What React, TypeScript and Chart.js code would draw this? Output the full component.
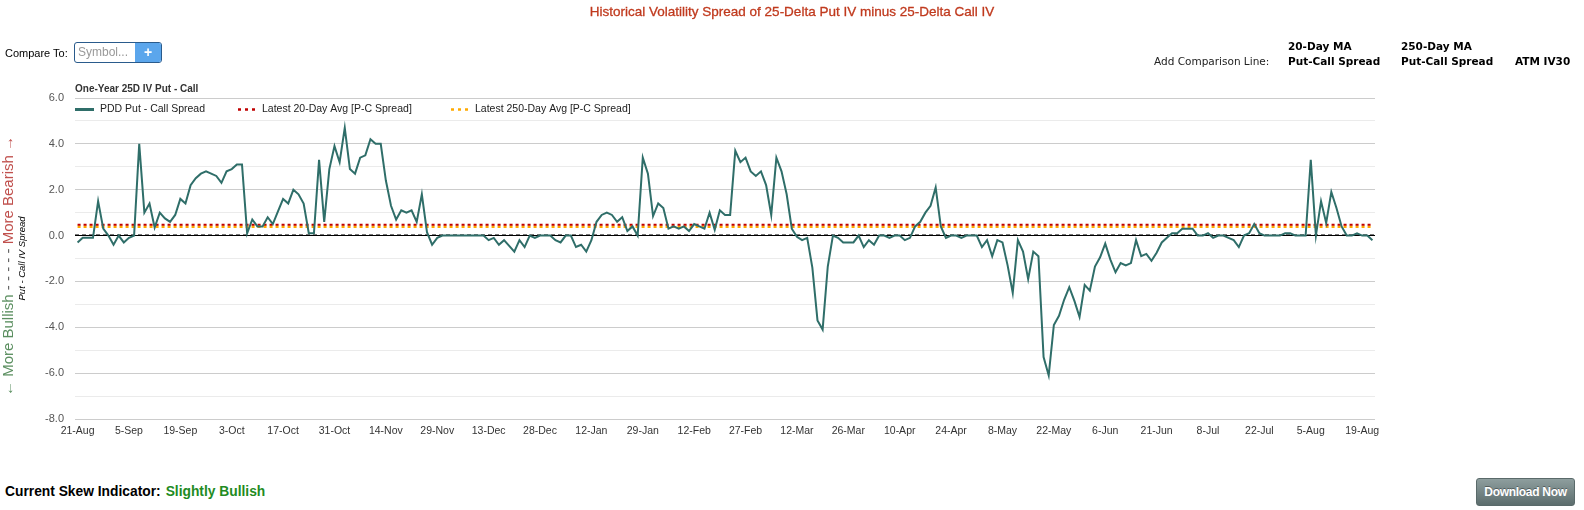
import React, { useEffect, useRef } from 'react';
import { Chart, registerables } from 'chart.js';

Chart.register(...registerables);

const tickLabels = [
  '21-Aug', '5-Sep', '19-Sep', '3-Oct', '17-Oct', '31-Oct', '14-Nov', '29-Nov', '13-Dec',
  '28-Dec', '12-Jan', '29-Jan', '12-Feb', '27-Feb', '12-Mar', '26-Mar', '10-Apr', '24-Apr',
  '8-May', '22-May', '6-Jun', '21-Jun', '8-Jul', '22-Jul', '5-Aug', '19-Aug',
];

const spreadValues = [
  -0.3, -0.1, -0.1, -0.1, 1.5, 0.3, 0.0, -0.4, 0.0, -0.3, -0.1, 0.0, 4.0, 1.0, 1.4, 0.35,
  1.0, 0.75, 0.6, 0.9, 1.6, 1.4, 2.2, 2.5, 2.7, 2.8, 2.7, 2.6, 2.3, 2.8, 2.9, 3.1,
  3.1, 0.1, 0.7, 0.4, 0.4, 0.8, 0.5, 1.05, 1.6, 1.4, 2.0, 1.8, 1.4, 0.1, 0.1, 3.3,
  0.6, 2.9, 3.9, 3.2, 4.7, 2.9, 2.7, 3.4, 3.5, 4.2, 4.0, 4.0, 2.4, 1.3, 0.7, 1.1,
  1.0, 1.1, 0.6, 1.8, 0.15, -0.4, -0.1, 0.0, 0.0, 0.0, 0.0, 0.0, 0.0, 0.0, 0.0, 0.0,
  -0.2, -0.1, -0.4, -0.2, -0.45, -0.7, -0.2, -0.5, 0.0, -0.1, 0.0, 0.0, 0.0, -0.2, -0.3, 0.0,
  0.0, -0.5, -0.4, -0.7, -0.2, 0.6, 0.9, 1.0, 0.9, 0.6, 0.8, 0.2, 0.4, 0.0, 3.4, 2.7,
  0.85, 1.4, 1.2, 0.3, 0.4, 0.3, 0.4, 0.2, 0.5, 0.4, 0.3, 1.0, 0.25, 1.1, 0.9, 0.9,
  3.7, 3.2, 3.4, 2.8, 2.6, 2.8, 2.2, 0.9, 3.4, 2.8, 1.8, 0.3, -0.05, -0.2, -0.1, -1.4,
  -3.7, -4.1, -1.35, 0.0, -0.1, -0.3, -0.3, -0.3, 0.0, -0.5, -0.2, -0.4, 0.0, 0.0, -0.1, 0.0,
  0.0, -0.2, -0.1, 0.4, 0.6, 1.0, 1.3, 2.1, 0.4, -0.1, 0.0, 0.0, -0.1, 0.0, 0.0, 0.0,
  -0.5, -0.2, -0.9, -0.2, -0.3, -1.3, -2.5, -0.2, -0.7, -1.9, -0.7, -0.9, -5.3, -6.1, -3.9, -3.5,
  -2.8, -2.25, -2.85, -3.55, -2.15, -2.4, -1.35, -0.95, -0.35, -1.05, -1.6, -1.2, -1.3, -1.2, -0.2, -0.9,
  -0.8, -1.1, -0.75, -0.3, -0.1, 0.1, 0.1, 0.3, 0.3, 0.3, 0.0, 0.0, 0.1, -0.1, 0.0, 0.0,
  -0.1, -0.2, -0.5, 0.0, 0.1, 0.5, 0.1, 0.0, 0.0, 0.0, 0.0, 0.1, 0.1, 0.0, 0.0, 0.0,
  3.3, 0.0, 1.5, 0.55, 1.9, 1.2, 0.4, 0.0, 0.0, 0.1, 0.0, 0.0, -0.2,
];

const avg20Day = 0.47;
const avg250Day = 0.38;

const seriesNames = [
  'PDD Put - Call Spread',
  'Latest 20-Day Avg [P-C Spread]',
  'Latest 250-Day Avg [P-C Spread]',
];

const seriesColors = ['#2f6e69', '#c00000', '#ffaa00'];

const Y_MIN = -8;
const Y_MAX = 6;

const categories = spreadValues.map((_, i) => (i % 10 === 0 ? tickLabels[i / 10] ?? '' : ''));

const FONT = '"Liberation Sans", Arial, Helvetica, sans-serif';

const zeroDashPlugin = {
  id: 'zeroDash',
  beforeDatasetsDraw(chart: any) {
    const { ctx, chartArea, scales } = chart;
    const y0 = Math.round(scales.y.getPixelForValue(0));
    ctx.save();
    ctx.strokeStyle = '#777';
    ctx.lineWidth = 1;
    ctx.setLineDash([4, 3]);
    ctx.beginPath();
    ctx.moveTo(chartArea.left, y0 - 1.5);
    ctx.lineTo(chartArea.right, y0 - 1.5);
    ctx.stroke();
    ctx.restore();
  },
};

const insideLegendPlugin = {
  id: 'insideLegend',
  afterDraw(chart: any) {
    const { ctx, chartArea } = chart;
    const y = chartArea.top + 11.5;
    const offsets = [0, 162, 375];
    ctx.save();
    ctx.font = `10.5px ${FONT}`;
    ctx.textBaseline = 'middle';
    ctx.textAlign = 'left';
    seriesNames.forEach((name, i) => {
      const x = chartArea.left + offsets[i];
      ctx.strokeStyle = seriesColors[i];
      if (i === 0) {
        ctx.lineWidth = 3;
        ctx.setLineDash([]);
        ctx.beginPath();
        ctx.moveTo(x, y);
        ctx.lineTo(x + 19, y);
        ctx.stroke();
      } else {
        ctx.lineWidth = 2.5;
        ctx.setLineDash([3, 4]);
        ctx.beginPath();
        ctx.moveTo(x + 1, y);
        ctx.lineTo(x + 18, y);
        ctx.stroke();
      }
      ctx.setLineDash([]);
      ctx.fillStyle = '#222';
      ctx.fillText(name, x + 25, y);
    });
    ctx.restore();
  },
};

function SpreadChart() {
  const canvasRef = useRef<HTMLCanvasElement | null>(null);

  useEffect(() => {
    const canvas = canvasRef.current;
    if (!canvas) return;
    const chart = new Chart(canvas, {
      type: 'line',
      data: {
        labels: categories,
        datasets: [
          {
            label: seriesNames[0],
            data: spreadValues,
            borderColor: seriesColors[0],
            backgroundColor: seriesColors[0],
            borderWidth: 2,
            pointRadius: 0,
            tension: 0,
          },
          {
            label: seriesNames[1],
            data: spreadValues.map(() => avg20Day),
            borderColor: seriesColors[1],
            backgroundColor: seriesColors[1],
            borderWidth: 2,
            borderDash: [3, 3],
            pointRadius: 0,
          },
          {
            label: seriesNames[2],
            data: spreadValues.map(() => avg250Day),
            borderColor: seriesColors[2],
            backgroundColor: seriesColors[2],
            borderWidth: 2.5,
            borderDash: [3, 3],
            pointRadius: 0,
          },
        ],
      },
      options: {
        animation: false,
        responsive: false,
        maintainAspectRatio: false,
        layout: { padding: { left: 0, right: 209, top: 98, bottom: 0 } },
        plugins: {
          legend: { display: false },
          tooltip: { enabled: false },
        },
        scales: {
          x: {
            type: 'category',
            offset: true,
            grid: { display: false, drawTicks: false },
            border: { display: false },
            ticks: {
              autoSkip: false,
              maxRotation: 0,
              minRotation: 0,
              padding: 6,
              color: '#333',
              font: { family: FONT, size: 10.5 },
            },
            afterFit: (s: any) => {
              s.height = 31;
            },
          },
          y: {
            type: 'linear',
            min: Y_MIN,
            max: Y_MAX,
            grid: {
              drawTicks: false,
              color: (c: any) =>
                c.tick && c.tick.value === 0
                  ? '#000'
                  : c.tick && Math.abs(c.tick.value) % 2 === 0
                  ? '#cccccc'
                  : '#ebebeb',
            },
            border: { display: false },
            ticks: {
              stepSize: 1,
              padding: 11,
              color: '#555',
              font: { family: FONT, size: 11 },
              callback: (v: any) => (Math.abs(Number(v)) % 2 === 0 ? Number(v).toFixed(1) : ''),
            },
            title: {
              display: true,
              text: 'Put - Call IV Spread',
              color: '#000',
              font: { family: FONT, size: 9.5, style: 'italic' },
              padding: { top: 17, bottom: 0 },
            },
            afterFit: (s: any) => {
              s.width = 75;
            },
          },
        },
      },
      plugins: [zeroDashPlugin, insideLegendPlugin],
    });
    return () => chart.destroy();
  }, []);

  return (
    <canvas
      ref={canvasRef}
      width={1584}
      height={450}
      style={{ position: 'absolute', left: 0, top: 0, width: 1584, height: 450 }}
    />
  );
}

export default function App() {
  const abs = (s: React.CSSProperties): React.CSSProperties => ({ position: 'absolute', whiteSpace: 'nowrap', ...s });
  const verdana = '"DejaVu Sans", Verdana, sans-serif';
  return (
    <div
      style={{
        position: 'absolute',
        left: 0,
        top: 0,
        width: 1584,
        height: 510,
        background: '#fff',
        fontFamily: FONT,
        overflow: 'hidden',
      }}
    >
      <SpreadChart />

      <div
        style={abs({
          left: 0,
          top: 3,
          width: 1584,
          textAlign: 'center',
          color: '#c03a1e',
          fontSize: 13.5,
          lineHeight: '18px',
          WebkitTextStroke: '0.3px #c03a1e',
        })}
      >
        Historical Volatility Spread of 25-Delta Put IV minus 25-Delta Call IV
      </div>

      <div style={abs({ left: 5, top: 45, fontSize: 11, lineHeight: '16px', color: '#000' })}>Compare To:</div>
      <div
        style={abs({
          left: 74,
          top: 42,
          width: 86,
          height: 19,
          border: '1px solid #2a5b8c',
          borderRadius: 3,
          overflow: 'hidden',
          display: 'flex',
          background: '#fff',
        })}
      >
        <div style={{ flex: 1, color: '#999', fontSize: 12, lineHeight: '19px', paddingLeft: 3 }}>Symbol...</div>
        <div
          style={{
            width: 26,
            background: '#5ba6ec',
            color: '#fff',
            fontWeight: 'bold',
            fontSize: 14,
            lineHeight: '19px',
            textAlign: 'center',
          }}
        >
          +
        </div>
      </div>

      <div style={abs({ left: 1154, top: 54, fontFamily: verdana, fontSize: 10.5, lineHeight: '14px', color: '#222' })}>
        Add Comparison Line:
      </div>
      <div
        style={abs({ left: 1288, top: 39, fontFamily: verdana, fontWeight: 'bold', fontSize: 10.5, lineHeight: '15px', color: '#000' })}
      >
        20-Day MA
        <br />
        Put-Call Spread
      </div>
      <div
        style={abs({ left: 1401, top: 39, fontFamily: verdana, fontWeight: 'bold', fontSize: 10.5, lineHeight: '15px', color: '#000' })}
      >
        250-Day MA
        <br />
        Put-Call Spread
      </div>
      <div
        style={abs({ left: 1515, top: 54, fontFamily: verdana, fontWeight: 'bold', fontSize: 10.5, lineHeight: '15px', color: '#000' })}
      >
        ATM IV30
      </div>

      <div style={abs({ left: 75, top: 82, fontSize: 10, fontWeight: 'bold', color: '#333', lineHeight: '13px' })}>
        One-Year 25D IV Put - Call
      </div>

      <div
        style={abs({
          left: 7.5 - 140,
          top: 266 - 9,
          width: 280,
          height: 18,
          lineHeight: '18px',
          textAlign: 'center',
          fontSize: 15,
          transform: 'rotate(-90deg)',
          transformOrigin: '50% 50%',
        })}
      >
        <span style={{ color: '#5b8f60' }}>← More Bullish</span>
        <span style={{ color: '#666' }}> - - - - - </span>
        <span style={{ color: '#c0504d' }}>More Bearish →</span>
      </div>

      <div style={abs({ left: 5, top: 483, fontSize: 13.8, fontWeight: 'bold', color: '#000', lineHeight: '18px' })}>
        Current Skew Indicator:
        <span style={{ color: '#228b22', marginLeft: 5 }}>Slightly Bullish</span>
      </div>

      <div
        style={abs({
          left: 1476,
          top: 478,
          width: 99,
          height: 28,
          borderRadius: 3,
          background: 'linear-gradient(#8e9e9e, #5c6d6d)',
          border: '1px solid #5a6a6a',
          boxSizing: 'border-box',
          color: '#fff',
          fontWeight: 'bold',
          fontSize: 12,
          lineHeight: '26px',
          textAlign: 'center',
          letterSpacing: -0.3,
          textShadow: '0 -1px 0 rgba(0,0,0,0.35)',
        })}
      >
        Download Now
      </div>
    </div>
  );
}
